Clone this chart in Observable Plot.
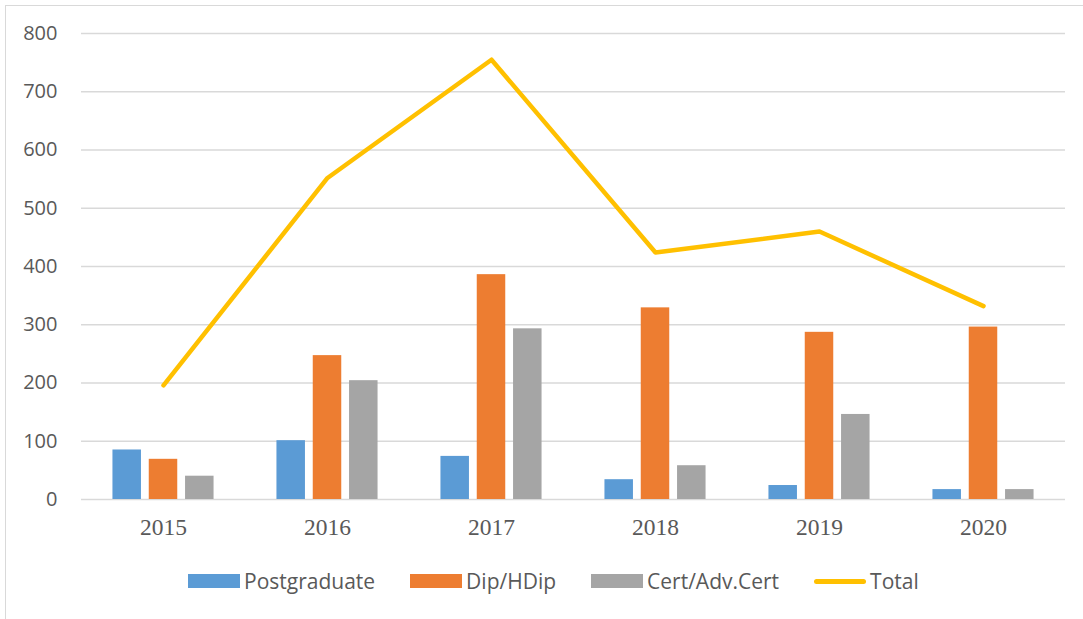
<!DOCTYPE html>
<html>
<head>
<meta charset="utf-8">
<script src="https://cdn.jsdelivr.net/npm/d3@7"></script>
<script src="https://cdn.jsdelivr.net/npm/@observablehq/plot@0.6"></script>
<style>
  html, body { margin: 0; padding: 0; background: #fff; overflow: hidden; }
  #wrap { position: relative; width: 1083px; height: 619px; overflow: hidden; }
  #frame { position: absolute; left: 5px; top: 5px; width: 1100px; height: 700px; border: 1.3px solid #d9d9d9; box-sizing: border-box; }
  #chart { position: absolute; left: 0; top: 0; }
  #legend { position: absolute; left: 188px; top: 567px; display: flex; align-items: center; font-family: "Open Sans", sans-serif; font-size: 21px; color: #595959; }
  .item { display: flex; align-items: center; margin-right: 35px; }
  .sw { width: 52px; height: 14px; margin-right: 4px; }
  .ln { width: 52px; height: 5px; border-radius: 3px; margin-right: 4px; }
</style>
</head>
<body>
<div id="wrap">
  <div id="frame"></div>
  <div id="chart"></div>
  <div id="legend"></div>
</div>
<script>
const years = ["2015", "2016", "2017", "2018", "2019", "2020"];
const postgraduate = [85, 101, 74, 34, 24, 17];
const dipHDip = [69, 247, 386, 329, 287, 296];
const certAdvCert = [40, 204, 293, 58, 146, 17];
const total = [196, 552, 755, 424, 460, 332];
const yTicks = [0, 100, 200, 300, 400, 500, 600, 700, 800];

const seriesNames = ["Postgraduate", "Dip/HDip", "Cert/Adv.Cert", "Total"];
const colors = ["#5B9BD5", "#ED7D31", "#A5A5A5", "#FFC000"];

const data = years.map((y, i) => ({
  year: y,
  pg: postgraduate[i],
  dip: dipHDip[i],
  cert: certAdvCert[i],
  total: total[i]
}));

const barW = 28.5;
const step = 164;
const inset = (step - barW) / 2;
const off = 36.3;

const plot = Plot.plot({
  width: 1083,
  height: 555,
  marginLeft: 81,
  marginRight: 18,
  marginTop: 33,
  marginBottom: 56,
  style: { background: "transparent", overflow: "visible" },
  x: { type: "band", domain: years, padding: 0, label: null },
  y: { domain: [0, 800], label: null },
  marks: [
    Plot.gridY(yTicks, { stroke: "#d9d9d9", strokeOpacity: 1, strokeWidth: 1.3 }),
    Plot.barY(data, { x: "year", y: "pg", fill: colors[0], dx: -off, insetLeft: inset, insetRight: inset }),
    Plot.barY(data, { x: "year", y: "dip", fill: colors[1], dx: 0, insetLeft: inset, insetRight: inset }),
    Plot.barY(data, { x: "year", y: "cert", fill: colors[2], dx: off, insetLeft: inset, insetRight: inset }),
    Plot.lineY(data, { x: "year", y: "total", stroke: colors[3], strokeWidth: 4.5, strokeLinecap: "round", strokeLinejoin: "round" }),
    Plot.axisY({ ticks: yTicks, tickSize: 0, tickPadding: 24, fontSize: 20, fontFamily: "Open Sans", fill: "#595959", label: null }),
    Plot.axisX({ tickSize: 0, tickPadding: 19, fontSize: 23.5, fontFamily: "Liberation Serif", fill: "#595959", label: null })
  ]
});
document.getElementById("chart").appendChild(plot);

const legend = document.getElementById("legend");
seriesNames.forEach((name, i) => {
  const item = document.createElement("div");
  item.className = "item";
  const sw = document.createElement("div");
  sw.className = i === 3 ? "ln" : "sw";
  sw.style.background = colors[i];
  const t = document.createElement("span");
  t.textContent = name;
  item.appendChild(sw);
  item.appendChild(t);
  legend.appendChild(item);
});
</script>
</body>
</html>
